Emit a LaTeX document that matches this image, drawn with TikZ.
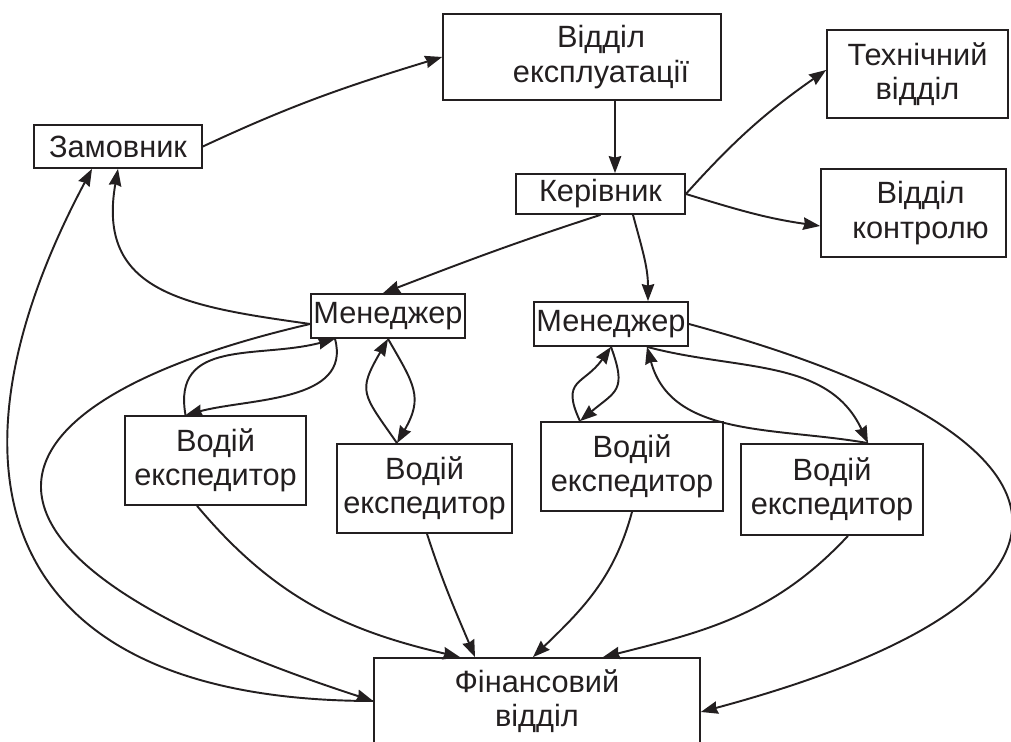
\documentclass[tikz,border=0pt]{standalone}
\usepackage{fontspec}
\setmainfont{Liberation Sans}
\usepackage{tikz}
\usetikzlibrary{arrows.meta, positioning}
\definecolor{ink}{RGB}{35, 31, 32}

\begin{document}
\begin{tikzpicture}[x=0.02cm, y=0.02cm,
    unit/.style={draw=ink, text=ink, line width=1pt, align=center, inner sep=0pt,
      font=\fontsize{17.5}{19.5}\selectfont},
    arr/.style={draw=ink, line width=1.1pt, -{Stealth[length=0.34cm, width=0.25cm, inset=0.03cm]}}]
  \useasboundingbox (0, 0) rectangle (1011, 742);

  % top level
  \node[unit, minimum width=5.56cm, minimum height=1.72cm] (expl) at (582, 685)
    {\hspace*{0.76cm}Відділ\\\hspace*{0.76cm}експлуатації};
  \node[unit, minimum width=3.62cm, minimum height=1.76cm] (tech) at (917.5, 668) {Технічний\\відділ};
  \node[unit, minimum width=3.36cm, minimum height=0.86cm] (zam) at (118, 595.5) {Замовник};
  \node[unit, minimum width=3.38cm, minimum height=0.80cm] (ker) at (600.5, 548) {Керівник};
  \node[unit, minimum width=3.70cm, minimum height=1.76cm] (kontr) at (913.5, 529)
    {\hspace*{0.28cm}Відділ\\\hspace*{0.28cm}контролю};

  % managers
  \node[unit, minimum width=3.08cm, minimum height=0.88cm] (men1) at (388, 426) {Менеджер};
  \node[unit, minimum width=3.08cm, minimum height=0.88cm] (men2) at (611, 418) {Менеджер};

  % drivers
  \node[unit, minimum width=3.62cm, minimum height=1.78cm] (vod1) at (215.5, 281.5) {Водій\\експедитор};
  \node[unit, minimum width=3.50cm, minimum height=1.78cm] (vod2) at (424.5, 253.5) {Водій\\експедитор};
  \node[unit, minimum width=3.64cm, minimum height=1.78cm] (vod3) at (632, 275.5) {Водій\\експедитор};
  \node[unit, minimum width=3.64cm, minimum height=1.82cm] (vod4) at (832, 252.5) {Водій\\експедитор};

  % finance
  \node[unit, minimum width=6.52cm, minimum height=1.72cm] (fin) at (537, 41) {Фінансовий\\відділ};

  % top links
  \draw[arr] (zam.east) to[out=25, in=197] (expl.west);
  \draw[arr] ([xshift=0.66cm]expl.south) -- ([xshift=0.29cm]ker.north);
  \draw[arr] (ker.east) to[out=48, in=215] ([yshift=0.08cm]tech.west);
  \draw[arr] (ker.east) to[out=-17, in=172] ([yshift=-0.26cm]kontr.west);
  \draw[arr] (ker.south) to[out=198, in=21] ([xshift=-0.1cm]men1.north);
  \draw[arr] ([xshift=0.65cm]ker.south) to[out=-75, in=90] ([xshift=0.74cm]men2.north);

  % customer and finance on the left
  \draw[arr] ([yshift=-0.16cm]men1.west) to[out=172, in=-100, looseness=1.3] (zam.south);
  \draw[arr] (fin.west) .. controls +(-380, 0) and +(-160, -300) .. ([xshift=-0.52cm]zam.south);
  \draw[arr] ([yshift=-0.16cm]men1.west) .. controls +(-341, -79) and +(-456, 148) .. (fin.west);

  % manager 1 <-> drivers
  \draw[arr] ([xshift=-0.6cm]vod1.north) to[out=100, in=195, looseness=1.2] ([xshift=-1.06cm]men1.south);
  \draw[arr] ([xshift=-1.06cm]men1.south) to[out=-75, in=15] ([xshift=-0.6cm]vod1.north);
  \draw[arr] ([xshift=-0.55cm]vod2.north) to[out=125, in=240, looseness=1.5] (men1.south);
  \draw[arr] (men1.south) to[out=-60, in=60, looseness=1.3] ([xshift=-0.55cm]vod2.north);

  % manager 2 <-> drivers
  \draw[arr] ([xshift=-1.04cm]vod3.north) to[out=115, in=235, looseness=1.5] (men2.south);
  \draw[arr] (men2.south) to[out=-70, in=40, looseness=1.5] ([xshift=-1.04cm]vod3.north);
  \draw[arr] ([xshift=0.72cm]men2.south) to[out=-15, in=115] ([xshift=0.72cm]vod4.north);
  \draw[arr] ([xshift=0.72cm]vod4.north) to[out=170, in=-75] ([xshift=0.72cm]men2.south);
  \draw[arr] (men2.east) .. controls +(432, -117) and +(410, 110) .. ([yshift=-0.22cm]fin.east);

  % drivers -> finance
  \draw[arr] ([xshift=-0.37cm]vod1.south) to[out=-50, in=167] ([xshift=-1.54cm]fin.north);
  \draw[arr] ([xshift=0.05cm]vod2.south) to[out=-72, in=113] ([xshift=-1.24cm]fin.north);
  \draw[arr] (vod3.south) to[out=-105, in=44] ([xshift=-0.08cm]fin.north);
  \draw[arr] ([xshift=0.32cm]vod4.south) to[out=-133, in=14] ([xshift=1.32cm]fin.north);
\end{tikzpicture}
\end{document}
